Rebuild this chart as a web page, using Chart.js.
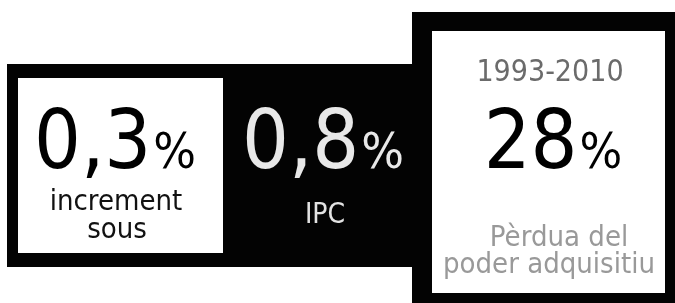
<!DOCTYPE html>
<html lang="ca">
<head>
  <meta charset="UTF-8" />
  <title>Poder adquisitiu</title>
  <script src="https://cdn.jsdelivr.net/npm/chart.js"></script>
  <style>
    body { margin: 0; background: #ffffff; }
    canvas { display: block; }
  </style>
</head>
<body>
  <canvas id="infoChart" width="675" height="303"></canvas>

  <script>
    // data
    const labels = ['increment sous', 'IPC', 'Pèrdua del poder adquisitiu'];
    const values = [0.3, 0.8, 28];
    const periods = ['', '', '1993-2010'];
    const labelLines = [['increment', 'sous'], ['IPC'], ['Pèrdua del', 'poder adquisitiu']];

    const FONT = "'DejaVu Sans', Verdana, sans-serif";
    const SX = 0.9; // narrow the glyphs a bit, the original face is tighter

    // panel layout (pixels)
    const panels = [
      { cx: 115, numY: 168, numColor: '#000000', labCx: [116, 117], labY: [210, 238], labColor: '#111111', labSize: 29 },
      { cx: 323, numY: 168, numColor: '#e8e8e8', labCx: [325], labY: [223], labColor: '#e2e2e2', labSize: 28 },
      { cx: 553, numY: 168, numColor: '#000000', labCx: [559, 549], labY: [246, 273], labColor: '#999999', labSize: 29,
        perY: 81, perColor: '#6b6b6b' }
    ];

    function fmt(v) {
      return String(v).replace('.', ',');
    }

    // draw text narrowed horizontally; x is the left edge in page pixels
    function narrowText(ctx, text, x, y) {
      ctx.save();
      ctx.translate(x, y);
      ctx.scale(SX, 1);
      ctx.fillText(text, 0, 0);
      ctx.restore();
    }

    function widthOf(ctx, text) {
      return ctx.measureText(text).width * SX;
    }

    const infoPlugin = {
      id: 'infoPanels',
      beforeDatasetsDraw(chart) {
        const ctx = chart.ctx;
        ctx.save();
        ctx.fillStyle = '#ffffff';
        ctx.fillRect(0, 0, chart.width, chart.height);
        // black band + right frame
        ctx.fillStyle = '#030303';
        ctx.fillRect(7, 64, 420, 203);
        ctx.fillRect(412, 12, 263, 291);
        // white cards
        ctx.fillStyle = '#ffffff';
        ctx.fillRect(18, 78, 205, 175);
        ctx.fillRect(432, 31, 233, 262);
        ctx.restore();
      },
      afterDatasetsDraw(chart) {
        const ctx = chart.ctx;
        ctx.save();
        ctx.textBaseline = 'alphabetic';
        ctx.textAlign = 'left';
        values.forEach((v, i) => {
          const p = panels[i];
          const num = fmt(v);
          ctx.font = '82px ' + FONT;
          const wNum = widthOf(ctx, num);
          ctx.font = '50px ' + FONT;
          const wPct = widthOf(ctx, '%');
          const gap = 2;
          const x0 = p.cx - (wNum + gap + wPct) / 2;
          ctx.fillStyle = p.numColor;
          ctx.font = '82px ' + FONT;
          narrowText(ctx, num, x0, p.numY);
          ctx.font = '50px ' + FONT;
          narrowText(ctx, '%', x0 + wNum + gap, p.numY);

          ctx.fillStyle = p.labColor;
          ctx.font = p.labSize + 'px ' + FONT;
          labelLines[i].forEach((line, j) => {
            narrowText(ctx, line, p.labCx[j] - widthOf(ctx, line) / 2, p.labY[j]);
          });

          if (periods[i]) {
            ctx.fillStyle = p.perColor;
            ctx.font = '30px ' + FONT;
            narrowText(ctx, periods[i], p.cx - 3 - widthOf(ctx, periods[i]) / 2, p.perY);
          }
        });
        ctx.restore();
      }
    };

    new Chart(document.getElementById('infoChart'), {
      type: 'bar',
      data: {
        labels: labels,
        datasets: [{
          label: 'Percentatge',
          data: values,
          backgroundColor: 'rgba(0,0,0,0)',
          borderWidth: 0
        }]
      },
      options: {
        responsive: false,
        animation: false,
        layout: { padding: 0 },
        plugins: {
          legend: { display: false },
          tooltip: { enabled: false }
        },
        scales: {
          x: { display: false },
          y: { display: false, beginAtZero: true }
        }
      },
      plugins: [infoPlugin]
    });
  </script>
</body>
</html>
